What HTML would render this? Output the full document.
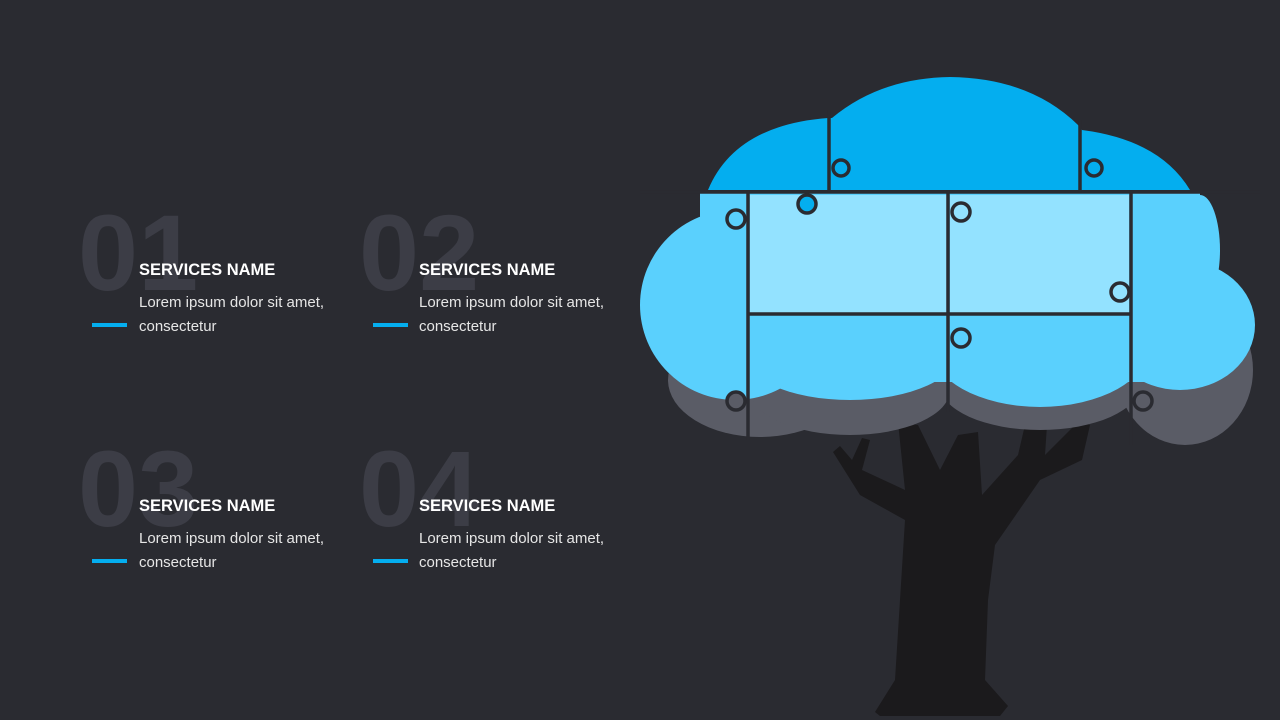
<!DOCTYPE html>
<html><head><meta charset="utf-8"><style>
html,body{margin:0;padding:0;background:#2a2b31;}
svg{display:block}
</style></head><body>
<svg width="1280" height="720" viewBox="0 0 1280 720" xmlns="http://www.w3.org/2000/svg" font-family="Liberation Sans, sans-serif">
<rect width="1280" height="720" fill="#2a2b31"/>
<g font-weight="bold" font-size="108" fill="#3c3d46">
<text x="78" y="290">01</text><text x="359" y="290">02</text>
<text x="78" y="526">03</text><text x="359" y="526">04</text>
</g>
<g fill="#ffffff">
<g font-weight="bold" font-size="16.5"><text x="139" y="275">SERVICES NAME</text><text x="419" y="275">SERVICES NAME</text><text x="139" y="511">SERVICES NAME</text><text x="419" y="511">SERVICES NAME</text></g>
<g font-size="15" fill="#e6e6e6">
<text x="139" y="307">Lorem ipsum dolor sit amet,</text><text x="139" y="331">consectetur</text>
<text x="419" y="307">Lorem ipsum dolor sit amet,</text><text x="419" y="331">consectetur</text>
<text x="139" y="543">Lorem ipsum dolor sit amet,</text><text x="139" y="567">consectetur</text>
<text x="419" y="543">Lorem ipsum dolor sit amet,</text><text x="419" y="567">consectetur</text>
</g></g>
<g fill="#04aeef"><rect x="92" y="323" width="35" height="4"/><rect x="373" y="323" width="35" height="4"/><rect x="92" y="559" width="35" height="4"/><rect x="373" y="559" width="35" height="4"/></g>
<!-- trunk -->
<polygon fill="#1b1a1c" points="875,712 895,680 905,520 860,495 833,452 840,446 852,460 862,438 870,440 862,470 905,490 898,422 918,425 940,470 958,435 978,432 982,495 1018,455 1028,412 1048,410 1045,455 1080,420 1090,425 1082,460 1040,480 995,545 988,600 985,680 1008,706 1000,716 880,716"/>
<!-- gray shadow -->
<g fill="#5a5c66">
<ellipse cx="760" cy="380" rx="92" ry="57"/>
<ellipse cx="850" cy="390" rx="100" ry="45"/>
<ellipse cx="1040" cy="385" rx="100" ry="45"/>
<ellipse cx="1185" cy="370" rx="68" ry="75"/>
<rect x="750" y="330" width="400" height="70"/>
</g>
<!-- blue lower cloud -->
<clipPath id="cb"><rect x="600" y="192" width="700" height="300"/></clipPath>
<g fill="#5ad0fd" clip-path="url(#cb)">
<circle cx="735" cy="305" r="95"/>
<rect x="700" y="192" width="500" height="190"/>
<ellipse cx="850" cy="350" rx="110" ry="50"/>
<ellipse cx="1040" cy="345" rx="110" ry="62"/>
<ellipse cx="1180" cy="325" rx="75" ry="65"/>
<ellipse cx="1200" cy="250" rx="20" ry="55"/>
</g>
<rect x="750" y="195" width="197" height="118" fill="#93e2ff"/>
<rect x="950" y="195" width="179" height="118" fill="#93e2ff"/>
<!-- top band -->
<path fill="#04aeef" d="M708,190 Q735,125 828,118 L832,118 Q880,78 950,77 Q1030,78 1078,125 L1082,130 Q1160,140 1190,190 Z"/>
<!-- gaps -->
<g stroke="#2a2b31" stroke-width="3.5" fill="none">
<line x1="640" y1="192" x2="1260" y2="192"/>
<line x1="829" y1="110" x2="829" y2="192"/>
<line x1="1080" y1="120" x2="1080" y2="192"/>
<line x1="748" y1="192" x2="748" y2="440"/>
<line x1="948" y1="192" x2="948" y2="412"/>
<line x1="1131" y1="192" x2="1131" y2="445"/>
<line x1="748" y1="314" x2="1131" y2="314"/>
<g stroke-width="3.5">
<circle cx="841" cy="168" r="8" fill="#04aeef"/>
<circle cx="1094" cy="168" r="8" fill="#04aeef"/>
<circle cx="807" cy="204" r="9" fill="#04aeef"/>
<circle cx="736" cy="219" r="9" fill="#5ad0fd"/>
<circle cx="961" cy="212" r="9" fill="#93e2ff"/>
<circle cx="1120" cy="292" r="9" fill="#93e2ff"/>
<circle cx="961" cy="338" r="9" fill="#5ad0fd"/>
<circle cx="736" cy="401" r="9" fill="#5a5c66"/>
<circle cx="1143" cy="401" r="9" fill="#5a5c66"/>
</g>
</g>
</svg>
</body></html>
